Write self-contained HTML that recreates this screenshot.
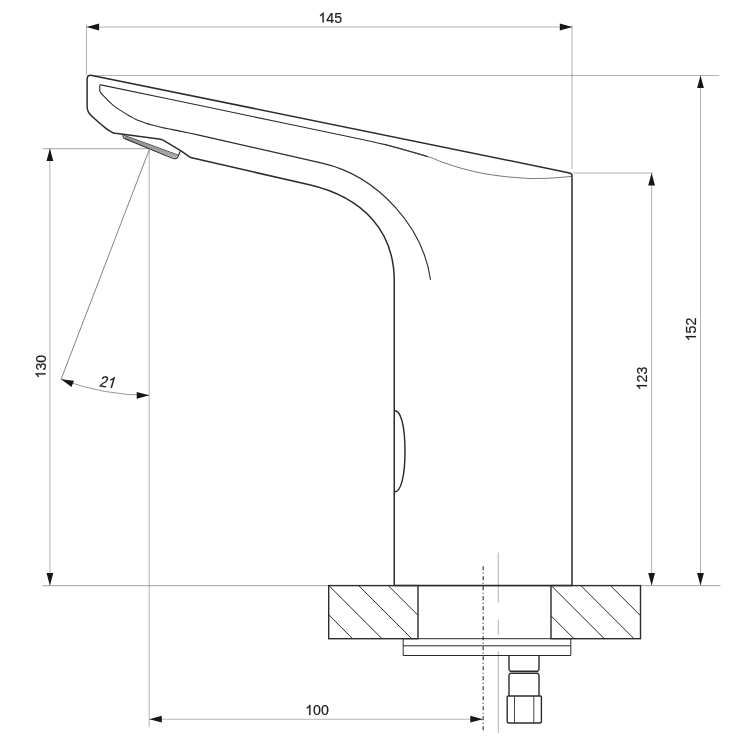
<!DOCTYPE html>
<html><head><meta charset="utf-8"><title>drawing</title>
<style>
html,body{margin:0;padding:0;background:#fff;}
body{width:750px;height:750px;overflow:hidden;}
svg{display:block}
text{font-family:"Liberation Sans",sans-serif;font-size:14.2px;fill:#1a1a1a;stroke:#1a1a1a;stroke-width:0.2px;}
</style></head><body>
<svg width="750" height="750" viewBox="0 0 750 750">
<rect width="750" height="750" fill="#fff"/>
<g fill="none" stroke="#000" stroke-opacity="0.29" stroke-width="1.05">
<path d="M86.5 24.3V74.7"/>
<path d="M86.6 27H572.3"/>
<path d="M572.0 25.8V168.9"/>
<path d="M87 75.4H719.2"/>
<path d="M572.8 173.0H653"/>
<path d="M651.6 173.0V585.6"/>
<path d="M700.5 75.4V585.6"/>
<path d="M640.5 585.6H720.4"/>
<path d="M42.4 585.6H328.7"/>
<path d="M43 148.6H149.2"/>
<path d="M49.9 148.6V585.6"/>
<path d="M149.2 149.8V726.8"/>
<path d="M149.3 719.2H483"/>
<path d="M498.3 552.5V602.7M498.3 619.5V635M498.3 651.4V733"/>
</g>
<path d="M149.2 149.8L61.1 379.3" fill="none" stroke="#5a5a5a" stroke-width="0.75"/>
<path d="M61.1 379.3A245.8 245.8 0 0 0 149.2 395.3" fill="none" stroke="#8c8c8c" stroke-width="0.9"/>
<path d="M483.15 566.3V730.8" fill="none" stroke="#2a2a2a" stroke-width="1.1" stroke-dasharray="3.9 2.6 1.0 2.5"/>
<!-- base -->
<g fill="none" stroke="#2a2a2a" stroke-width="1.0">
<path d="M 328.70 614.80 L 352.60 638.70 M 328.90 585.60 L 382.00 638.70 M 358.70 585.60 L 411.80 638.70 M 388.30 585.60 L 418.00 615.30"/><path d="M 551.00 615.80 L 573.90 638.70 M 551.20 585.60 L 604.30 638.70 M 580.90 585.60 L 634.00 638.70 M 610.40 585.60 L 640.50 615.70"/>
<path d="M403.2 638.7H570.8V655.5H403.2Z"/>
<path d="M403.2 645.8H570.8"/>
</g>
<g fill="none" stroke="#2c2c2c" stroke-width="1.4" stroke-linejoin="miter">
<rect x="328.7" y="585.6" width="89.30000000000001" height="53.10000000000002"/>
<rect x="551" y="585.6" width="89.5" height="53.10000000000002"/>
<path d="M418 585.6H551"/>
</g>
<!-- connector -->
<g fill="none" stroke="#2c2c2c" stroke-width="1.4" stroke-linejoin="round">
<path d="M509.0 655.5V669.6L510.2 671.2H537.8L539 669.6V655.5"/>
<path d="M510.2 673.2H537.8L539 674.8V695.9M510.2 673.2L509.0 674.8V695.9"/>
<path d="M508.3 696.0H540.3Q541.4 696.0 541.4 697.1V721.2Q541.4 723.0 539.6 723.0H509.0Q507.2 723.0 507.2 721.2V697.1Q507.2 696.0 508.3 696.0Z"/>
</g>
<path d="M514.5 696.0V723.0M533.8 696.0V723.0" fill="none" stroke="#333" stroke-width="0.9"/>
<!-- body -->
<path d="M 394.25 585.6 L 394.25 280.89 C 394.25 232.30 364.36 197.34 308.33 184.57 L 190.6 157.6 L 181 150.9 L 163.5 140.3 Q 161.5 139.2 159 138.9 L 115.5 133.35 C 115.15 133.29 114.03 133.19 113.40 133.00 C 112.77 132.81 112.52 132.67 111.70 132.20 C 110.88 131.73 109.62 130.97 108.50 130.20 C 107.38 129.43 106.69 128.97 105.00 127.60 C 103.31 126.23 100.55 123.93 98.33 122.00 C 96.11 120.07 93.19 117.45 91.67 116.00 C 90.15 114.55 89.83 114.17 89.20 113.30 C 88.57 112.43 88.23 111.68 87.90 110.80 C 87.58 109.92 87.38 109.05 87.25 108.00 C 87.12 106.95 87.12 105.08 87.10 104.50 L 87.1 79.2 Q 87.1 74.4 92 75.4 L 569.6 172.9 Q 572 173.4 572 175.8 L 572 585.6 Z" fill="none" stroke="#2c2c2c" stroke-width="1.5" stroke-linejoin="round"/>
<g fill="none" stroke="#2a2a2a" stroke-width="1.1">
<path d="M 99.8 91.5 L 99.8 85.6 Q 99.8 84.6 100.8 84.85 L 170 99.32 C 183.33 102.10 223.33 110.45 250.00 116.02 C 276.67 121.59 307.45 127.96 330.00 132.72 C 352.55 137.49 368.97 140.60 385.30 144.60 C 401.63 148.60 420.88 154.68 428.00 156.70"/>
<path d="M 385.30 144.60 C 392.42 146.62 418.67 153.83 428.00 156.70 C 437.33 159.57 435.52 159.80 441.30 161.80 C 447.08 163.80 455.58 166.73 462.70 168.70 C 469.82 170.67 476.90 172.28 484.00 173.60 C 491.10 174.92 498.18 175.82 505.30 176.60 C 512.42 177.38 521.37 177.98 526.70 178.30 C 532.03 178.62 533.03 178.55 537.30 178.50 C 541.57 178.45 546.60 178.35 552.30 178.00 C 558.00 177.65 568.30 176.67 571.50 176.40" stroke="#4a4a4a" stroke-width="0.75"/>
<path d="M 99.80 91.50 C 100.38 92.18 102.15 94.33 103.30 95.60 C 104.45 96.87 105.58 97.98 106.70 99.10 C 107.82 100.22 108.90 101.27 110.00 102.30 C 111.10 103.33 112.18 104.37 113.30 105.30 C 114.42 106.23 115.58 107.10 116.70 107.90 C 117.82 108.70 118.78 109.32 120.00 110.10 C 121.22 110.88 122.67 111.78 124.00 112.60 C 125.33 113.42 126.67 114.22 128.00 115.00 C 129.33 115.78 130.67 116.57 132.00 117.30 C 133.33 118.03 134.67 118.77 136.00 119.40 C 137.33 120.03 138.67 120.57 140.00 121.10 C 141.33 121.63 142.67 122.13 144.00 122.60 C 145.33 123.07 146.67 123.50 148.00 123.90 C 149.33 124.30 150.00 124.48 152.00 125.00 C 154.00 125.52 157.33 126.37 160.00 127.00 C 162.67 127.63 164.67 128.12 168.00 128.80 C 171.33 129.48 174.67 130.00 180.00 131.10 C 185.33 132.20 196.67 134.68 200.00 135.40 L 322.02 163.16 C 379.44 176.22 423.54 228.59 430.5 279.8"/>
<path d="M394.30 410.50 C 400.93 410.50 405.00 425.99 405.00 451.25 C 405.00 476.51 400.93 492.00 394.30 492.00" stroke-width="1.45"/>
<path d="M 122.7 134.4 L 123.2 137.2 Q 123.4 138.1 124.3 138.5 L 173.2 158.4 Q 176.8 159.6 177.8 157 L 180.2 151.2"/>
<path d="M 124.00 135.20 L 178.60 155.20" stroke-width="0.8"/>
</g>
<path d="M 124.75 138.05 L 175.60 157.75 M 124.50 137.10 L 176.60 156.90 M 124.25 136.15 L 177.60 156.05" fill="none" stroke="#222" stroke-width="0.5"/>
<path d="M 86.60 27.00 L 99.10 30.40 L 99.10 23.60 Z M 572.30 27.00 L 559.80 23.60 L 559.80 30.40 Z M 700.50 75.40 L 697.10 87.90 L 703.90 87.90 Z M 700.50 585.60 L 703.90 573.10 L 697.10 573.10 Z M 651.60 173.00 L 648.20 185.50 L 655.00 185.50 Z M 651.60 585.60 L 655.00 573.10 L 648.20 573.10 Z M 49.90 148.60 L 46.50 161.10 L 53.30 161.10 Z M 49.90 585.60 L 53.30 573.10 L 46.50 573.10 Z M 149.30 719.20 L 161.80 722.60 L 161.80 715.80 Z M 482.80 719.20 L 470.30 715.80 L 470.30 722.60 Z M 61.10 379.30 L 71.48 387.04 L 73.98 380.72 Z M 149.20 395.30 L 136.70 391.90 L 136.70 398.70 Z" fill="#161616"/>
<g opacity="0.99">
<g transform="translate(318.45 22.60)"><path transform="translate(0.000 0) scale(0.006934 -0.006934)" d="M763 0L583 0L583 1147Q518 1085 412.5 1023Q307 961 223 930L223 1104Q374 1175 487 1276Q600 1377 647 1472L763 1472Z" fill="#1a1a1a" stroke="#1a1a1a" stroke-width="28.8"/><text x="7.895" y="0" style="font-size:14.2px">4</text><text x="15.790" y="0" style="font-size:14.2px">5</text></g>
<g transform="translate(305.15 715.00)"><path transform="translate(0.000 0) scale(0.006934 -0.006934)" d="M763 0L583 0L583 1147Q518 1085 412.5 1023Q307 961 223 930L223 1104Q374 1175 487 1276Q600 1377 647 1472L763 1472Z" fill="#1a1a1a" stroke="#1a1a1a" stroke-width="28.8"/><text x="7.895" y="0" style="font-size:14.2px">0</text><text x="15.790" y="0" style="font-size:14.2px">0</text></g>
<g transform="translate(45.50 378.50) rotate(-90)"><path transform="translate(0.000 0) scale(0.006934 -0.006934)" d="M763 0L583 0L583 1147Q518 1085 412.5 1023Q307 961 223 930L223 1104Q374 1175 487 1276Q600 1377 647 1472L763 1472Z" fill="#1a1a1a" stroke="#1a1a1a" stroke-width="28.8"/><text x="7.895" y="0" style="font-size:14.2px">3</text><text x="15.790" y="0" style="font-size:14.2px">0</text></g>
<g transform="translate(646.90 390.40) rotate(-90)"><path transform="translate(0.000 0) scale(0.006934 -0.006934)" d="M763 0L583 0L583 1147Q518 1085 412.5 1023Q307 961 223 930L223 1104Q374 1175 487 1276Q600 1377 647 1472L763 1472Z" fill="#1a1a1a" stroke="#1a1a1a" stroke-width="28.8"/><text x="7.895" y="0" style="font-size:14.2px">2</text><text x="15.790" y="0" style="font-size:14.2px">3</text></g>
<g transform="translate(695.90 341.40) rotate(-90)"><path transform="translate(0.000 0) scale(0.006934 -0.006934)" d="M763 0L583 0L583 1147Q518 1085 412.5 1023Q307 961 223 930L223 1104Q374 1175 487 1276Q600 1377 647 1472L763 1472Z" fill="#1a1a1a" stroke="#1a1a1a" stroke-width="28.8"/><text x="7.895" y="0" style="font-size:14.2px">5</text><text x="15.790" y="0" style="font-size:14.2px">2</text></g>
<g transform="translate(98.80 386.40) rotate(7) skewX(-9) scale(1 1.1)"><text x="0.000" y="0" style="font-size:14.2px">2</text><path transform="translate(7.895 0) scale(0.006934 -0.006934)" d="M763 0L583 0L583 1147Q518 1085 412.5 1023Q307 961 223 930L223 1104Q374 1175 487 1276Q600 1377 647 1472L763 1472Z" fill="#1a1a1a" stroke="#1a1a1a" stroke-width="28.8"/></g>
</g>
</svg>
</body></html>
